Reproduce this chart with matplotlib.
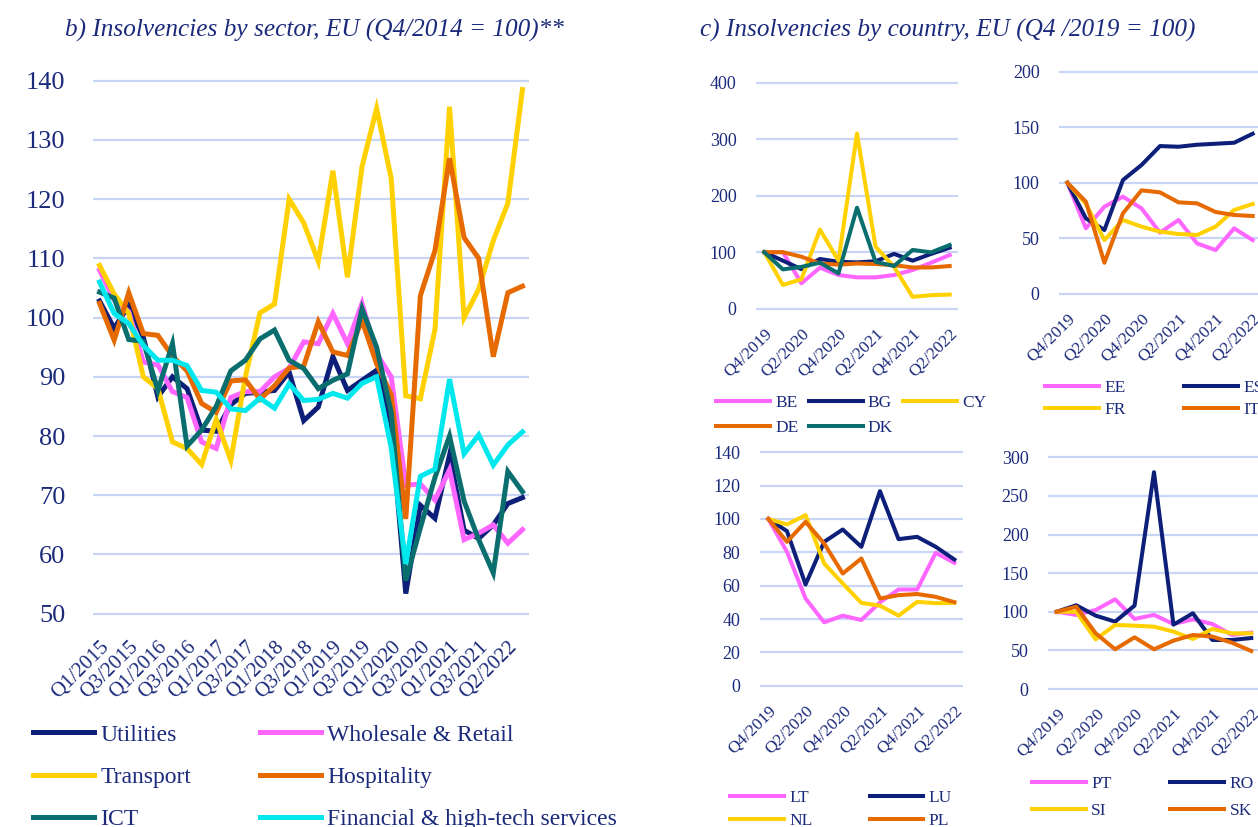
import matplotlib
matplotlib.use("Agg")
import matplotlib.pyplot as plt

W, H = 1258, 827
plt.rcParams['font.family'] = ['Liberation Serif', 'DejaVu Serif']

TXT = '#1b2a7b'
GRID = '#c9d5f7'
NAVY = '#0d1f78'
YELLOW = '#ffd100'
TEAL = '#0a6e6e'
PINK = '#ff66ff'
ORANGE = '#e66a00'
CYAN = '#00e8ee'

# ---- b) sector data (Q4/2014 = 100) ----
sector_quarters = [f"Q{q}/{y}" for y in range(2015, 2022) for q in range(1, 5)] + ["Q2/2022", "Q3/2022"]
utilities = [102.8, 98.2, 102, 96.7, 86.6, 90, 88, 81, 80.8, 85.3, 87.2, 87.4, 87.7, 90.8, 82.6,
             84.9, 93.4, 87.7, 89.4, 91.1, 82, 53.4, 68.3, 66.1, 76.8, 64.1, 62.7, 65, 68.6, 69.6]
transport = [108.8, 104, 100.7, 90, 88, 79, 77.9, 75.2, 82.8, 75.9, 90, 100.8, 102.3, 120, 116,
             109.5, 124.8, 106.8, 125.5, 135.3, 123.5, 86.8, 86.3, 98, 135.6, 100, 104.8, 113, 119.3, 138.5]
ict = [104.3, 103.3, 96.3, 96, 87.7, 95.6, 78.3, 81, 85, 91, 92.8, 96.4, 97.9, 92.8, 91.4,
       88, 89.4, 90.5, 101.5, 95, 84, 55.6, 64.5, 73, 80, 69, 62.5, 56.9, 74, 70.6]
wholesale = [108, 103, 101, 92.5, 92, 87.5, 86.5, 79, 77.9, 86.5, 87.5, 87.5, 90, 91.4, 95.9,
             95.6, 100.7, 95.6, 102.4, 93.9, 90, 71.7, 71.9, 69.2, 74.3, 62.5, 63.6, 65, 61.9, 64.2]
hospitality = [102.4, 96.2, 104.2, 97.3, 97, 93.5, 91, 85.5, 84, 89.3, 89.5, 86.2, 88.5, 91.5, 91.8,
               99.3, 94.2, 93.6, 99.5, 92.2, 87, 66, 103.7, 111.3, 126.9, 113.5, 110, 93.4, 104.2, 105.3]
financial = [106, 100.7, 99, 95.3, 92.8, 92.8, 91.9, 87.7, 87.4, 84.6, 84.3, 86.4, 84.7, 88.8, 86,
             86.2, 87.2, 86.4, 88.9, 90, 78, 58.4, 73.2, 74.4, 89.6, 77, 80.2, 75.1, 78.5, 80.7]

# ---- c) country data (Q4/2019 = 100) ----
country_quarters = ["Q4/2019", "Q1/2020", "Q2/2020", "Q3/2020", "Q4/2020", "Q1/2021",
                    "Q2/2021", "Q3/2021", "Q4/2021", "Q1/2022", "Q2/2022"]
be = [100, 100, 45, 72.6, 59.6, 55.5, 55.5, 59.6, 68.4, 81.4, 95]
bg = [100, 85, 70, 88, 83, 82, 84, 97, 85, 97, 108]
cy = [100, 42, 52, 140, 85, 310, 110, 74, 21, 24, 25]
de = [100, 100, 92, 80, 78, 80, 79, 77, 73, 73, 75.5]
dk = [100, 69.6, 74, 81.4, 62.5, 178.8, 83, 75.5, 104, 99.7, 112.7]
ee = [100, 58.9, 78.4, 87.4, 76.9, 55, 66.4, 45.3, 39.3, 58.9, 48.3]
es = [100, 67.9, 57.4, 102.4, 115.9, 133, 132.4, 134.2, 135.1, 136, 144.1]
fr = [100, 81, 48.3, 66.4, 60.4, 55.9, 53.8, 52.9, 60.4, 75.4, 80.8]
it = [100, 82.9, 27.9, 72.4, 93.1, 91.3, 82.3, 81.4, 73.6, 70.9, 70]
lt = [100, 80.3, 52.3, 38, 42, 39.4, 50, 57.7, 57.7, 79.7, 73.7]
lu = [100, 92.7, 60.7, 86.3, 93.7, 83.3, 116.7, 87.9, 89.3, 83.3, 75.7]
nl = [100, 96.7, 102.3, 73.3, 61.3, 49.7, 48, 42, 50.3, 49.5, 49.7]
pl = [100, 86.3, 98.3, 85.3, 67.3, 76.3, 52.3, 54.3, 55, 53.3, 50.1]
pt = [100, 95.9, 102.3, 116.1, 90.7, 95.9, 84.2, 90.2, 84.2, 70, 73]
ro = [100, 108.4, 95, 87.2, 108, 280.7, 83.3, 98, 63.5, 63.5, 66]
si = [100, 100, 64.3, 82.9, 82, 80.7, 74.3, 64.8, 77.7, 72.1, 72]
sk = [100, 106.6, 72.1, 51.4, 66.9, 51.4, 62.6, 70, 67.8, 60, 49.2]

fig = plt.figure(figsize=(W / 100, H / 100), dpi=100)


def place(left_px, right_px, ybot_px, ytop_px, ymin, ymax, ypad, n):
    """Axes whose x spans the grid lines and whose ymin/ymax land on given pixels."""
    ppu = (ybot_px - ytop_px) / (ymax - ymin)
    b = ybot_px + ypad * ppu
    t = ytop_px - ypad * ppu
    ax = fig.add_axes([left_px / W, 1 - b / H, (right_px - left_px) / W, (b - t) / H])
    ax.set_ylim(ymin - ypad, ymax + ypad)
    ax.set_xlim(-0.45, n - 1 + 0.45)
    for s in ax.spines.values():
        s.set_visible(False)
    ax.grid(axis='y', color=GRID, lw=1.6)
    ax.set_axisbelow(True)
    ax.tick_params(length=0, colors=TXT)
    return ax


def set_xlabels(ax, labels, size, pad):
    idx = list(range(0, len(labels), 2))
    ax.set_xticks(idx)
    ax.set_xticklabels([labels[i] for i in idx], rotation=45, ha='right', va='top',
                       rotation_mode='anchor', fontsize=size, color=TXT)
    ax.tick_params(axis='x', pad=pad)


# ---------------- left chart ----------------
ax = place(93, 529, 613.7, 80.7, 50, 140, 1.0, len(sector_quarters))
x = range(len(sector_quarters))
sectors = [
    ("Utilities", utilities, NAVY, 2.0),
    ("Transport", transport, YELLOW, 2.2),
    ("ICT", ict, TEAL, 2.4),
    ("Wholesale & Retail", wholesale, PINK, 2.1),
    ("Hospitality", hospitality, ORANGE, 2.3),
    ("Financial & high-tech services", financial, CYAN, 2.5),
]
handles = []
for name, vals, col, z in sectors:
    h, = ax.plot(x, vals, color=col, lw=3.6, zorder=z, label=name, solid_joinstyle='miter')
    handles.append(h)
ax.set_yticks(range(50, 141, 10))
ax.tick_params(axis='y', labelsize=19, pad=20)
set_xlabels(ax, sector_quarters, 15, 13)

fig.text(65 / W, 1 - 30 / H, "b) Insolvencies by sector, EU (Q4/2014 = 100)**",
         fontsize=18.2, style='italic', color=TXT, va='center', ha='left')
fig.legend(handles=handles, loc='upper left', bbox_to_anchor=(33 / W, 1 - 724 / H),
           ncol=2, frameon=False, fontsize=17, labelcolor=TXT, borderpad=0,
           borderaxespad=0, handlelength=2.6, handletextpad=0.25, labelspacing=0.88,
           columnspacing=2.9)

fig.text(700 / W, 1 - 30 / H, "c) Insolvencies by country, EU (Q4 /2019 = 100)",
         fontsize=18.2, style='italic', color=TXT, va='center', ha='left')


def panel(box, ymax, step, series):
    left, right, ybot, ytop = box
    a = place(left, right, ybot, ytop, 0, ymax, ymax * 0.012, len(country_quarters))
    hs = []
    for name, vals, col in series:
        h, = a.plot(range(len(country_quarters)), vals, color=col, lw=2.9, label=name)
        hs.append(h)
    a.set_yticks(range(0, ymax + 1, step))
    a.tick_params(axis='y', labelsize=13, pad=14)
    set_xlabels(a, country_quarters, 12.5, 10)
    return hs


def small_legend(hs, x_px, top_px, ncol, colsp, lspace):
    fig.legend(handles=hs, loc='upper left', bbox_to_anchor=(x_px / W, 1 - top_px / H),
               ncol=ncol, frameon=False, fontsize=12.5, labelcolor=TXT, borderpad=0,
               borderaxespad=0, handlelength=3.1, handletextpad=0.3,
               labelspacing=lspace, columnspacing=colsp)


# panel order is row-major in the picture; matplotlib fills legends by column
h1 = panel((756, 958, 308.7, 82.7), 400, 100,
           [("BE", be, PINK), ("BG", bg, NAVY), ("CY", cy, YELLOW), ("DE", de, ORANGE), ("DK", dk, TEAL)])
small_legend([h1[0], h1[3], h1[1], h1[4], h1[2]], 716, 395, 3, 0.6, 0.5)

h2 = panel((1059, 1261, 293.7, 71.7), 200, 50,
           [("EE", ee, PINK), ("ES", es, NAVY), ("FR", fr, YELLOW), ("IT", it, ORANGE)])
small_legend([h2[0], h2[2], h2[1], h2[3]], 1045, 380, 2, 3.4, 0.35)

h3 = panel((760, 962.7, 685.7, 452.3), 140, 20,
           [("LT", lt, PINK), ("LU", lu, NAVY), ("NL", nl, YELLOW), ("PL", pl, ORANGE)])
small_legend([h3[0], h3[2], h3[1], h3[3]], 730, 790, 2, 3.3, 0.4)

h4 = panel((1048, 1260, 689, 457.3), 300, 50,
           [("PT", pt, PINK), ("RO", ro, NAVY), ("SI", si, YELLOW), ("SK", sk, ORANGE)])
small_legend([h4[0], h4[2], h4[1], h4[3]], 1032, 776, 2, 3.4, 0.6)

fig.savefig("out.png", dpi=100)
